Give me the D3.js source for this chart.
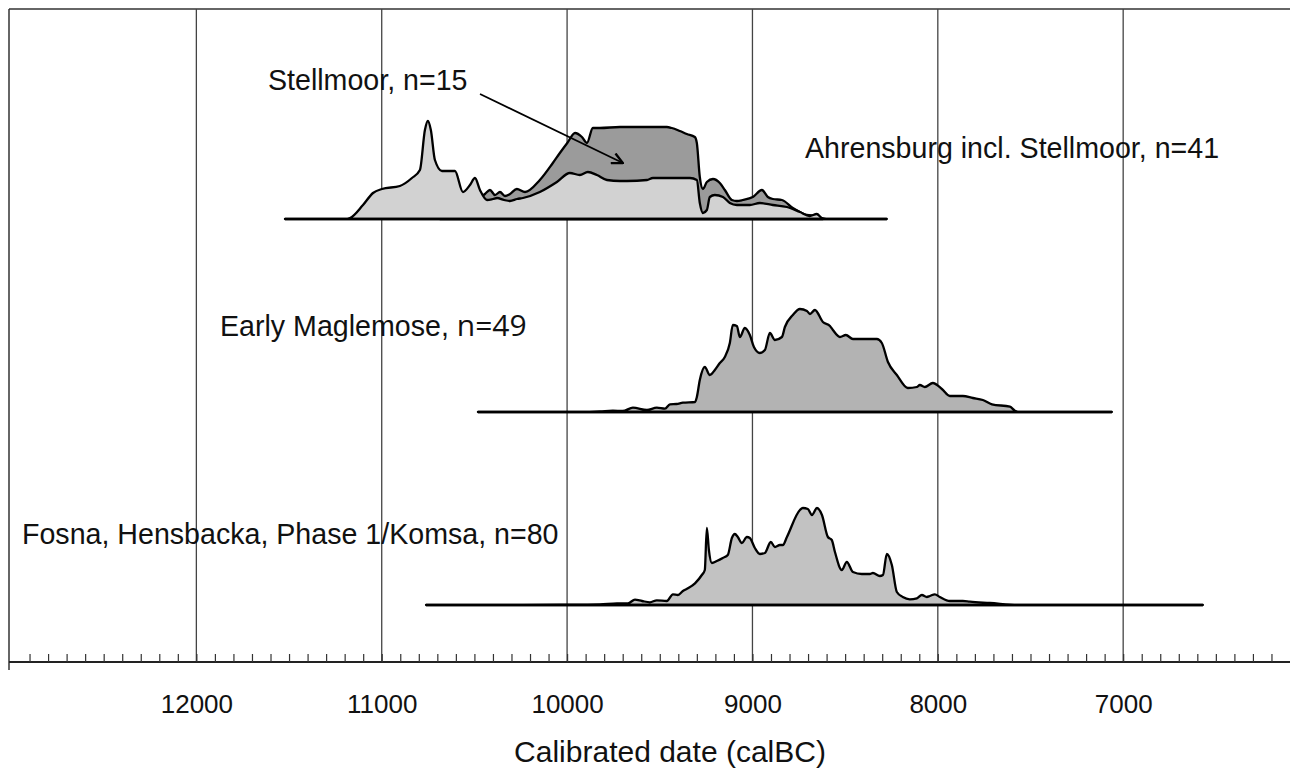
<!DOCTYPE html>
<html>
<head>
<meta charset="utf-8">
<script src="https://cdn.jsdelivr.net/npm/d3@7/dist/d3.min.js"></script>
<style>
  html, body { margin: 0; padding: 0; background: #fff; }
  svg { display: block; font-family: "Liberation Sans", Arial, sans-serif; }
</style>
</head>
<body>
<div id="chart"></div>
<script>
// tick values of the date axis (cal BC)
const majorTicks = [12000, 11000, 10000, 9000, 8000, 7000];
const minorTicks = d3.range(6200, 13000, 100);

// summed probability, [calBC, relative density]
const ahrensburg = [
  [11522, 0], [11198, 0], [11171, 1], [11101, 14], [11047, 26], [10999, 30], [10902, 33],
  [10837, 41], [10794, 49], [10767, 89], [10751, 98], [10735, 89], [10713, 59], [10675, 48],
  [10605, 48], [10562, 27], [10524, 34], [10497, 41], [10470, 29], [10432, 19], [10400, 20],
  [10378, 21], [10340, 19], [10308, 18], [10270, 20], [10238, 21], [10147, 27], [10055, 37],
  [9985, 46], [9931, 44], [9888, 47], [9839, 44], [9785, 39], [9715, 38], [9677, 38],
  [9569, 39], [9537, 41], [9337, 41], [9300, 39], [9284, 16], [9267, 6], [9246, 9],
  [9230, 22], [9203, 24], [9159, 22], [9122, 16], [9084, 14], [9014, 14], [8960, 16],
  [8890, 14], [8814, 12], [8744, 7], [8691, 3], [8653, 5], [8625, 1], [8580, 0], [8275, 0]
];

const stellmoor = [
  [10686, 0], [10524, 15], [10443, 25], [10416, 29], [10389, 24], [10362, 27], [10335, 23],
  [10308, 25], [10271, 30], [10227, 27], [10147, 39], [10077, 56], [10039, 66], [9999, 76],
  [9957, 86], [9920, 82], [9893, 76], [9861, 91], [9823, 91], [9715, 92], [9607, 92],
  [9462, 92], [9435, 91], [9392, 88], [9354, 85], [9311, 82], [9300, 76], [9284, 42],
  [9267, 30], [9246, 37], [9213, 40], [9176, 36], [9149, 29], [9111, 19], [9084, 18],
  [9052, 19], [8998, 22], [8949, 29], [8917, 22], [8890, 20], [8841, 19], [8782, 11],
  [8744, 7], [8707, 4], [8653, 3], [8620, 0]
];

const maglemose = [
  [10481, 0], [9931, 0], [9823, 0.5], [9753, 1.3], [9700, 1], [9645, 4.3], [9569, 2],
  [9516, 4.3], [9472, 3.3], [9445, 7.7], [9410, 8], [9375, 9.3], [9310, 10], [9300, 15],
  [9284, 32], [9257, 45], [9230, 37], [9203, 42], [9176, 49], [9149, 55], [9122, 69],
  [9106, 87], [9084, 86], [9068, 75], [9041, 84], [9014, 77], [8992, 65], [8960, 59],
  [8933, 62], [8906, 79], [8879, 72], [8841, 75], [8825, 85], [8782, 97], [8744, 103],
  [8706, 101], [8690, 98], [8663, 102], [8620, 90], [8582, 86], [8566, 82], [8528, 75],
  [8496, 77], [8458, 73], [8329, 73], [8302, 69], [8269, 50], [8221, 37], [8162, 24],
  [8113, 25], [8097, 27], [8070, 25], [8027, 29], [7978, 23], [7935, 16], [7865, 16],
  [7811, 14], [7757, 12], [7708, 7.7], [7611, 5.3], [7584, 1.3], [7568, 0], [7061, 0]
];

const fosna = [
  [10761, 0], [10300, 0], [10039, 0.3], [9823, 0.7], [9731, 1.7], [9672, 1.7], [9634, 5.3],
  [9596, 4], [9553, 2.7], [9516, 4.7], [9462, 4], [9429, 10.7], [9402, 10], [9375, 14],
  [9348, 16.7], [9310, 21.7], [9273, 30], [9257, 35], [9246, 77], [9235, 55], [9219, 42],
  [9192, 44], [9160, 47], [9133, 50], [9111, 67], [9095, 71], [9079, 68], [9057, 62],
  [9030, 68], [9014, 67], [8987, 57], [8960, 51], [8933, 52], [8901, 63], [8879, 58],
  [8852, 60], [8836, 60], [8814, 68], [8744, 95], [8728, 97], [8701, 96], [8679, 90],
  [8652, 97], [8625, 90], [8593, 68], [8572, 65], [8555, 53], [8518, 35], [8491, 43],
  [8458, 33], [8410, 31], [8367, 31], [8350, 32], [8313, 29], [8296, 30], [8275, 51],
  [8248, 40], [8221, 13], [8189, 8], [8151, 5.7], [8113, 6.7], [8086, 10], [8059, 8],
  [8043, 9], [8016, 10.7], [7989, 8], [7935, 4], [7865, 4], [7827, 3.3], [7719, 2],
  [7557, 0], [6570, 0]
];

const width = 1290, height = 778;
const frameLeft = 9, frameTop = 9, axisY = 662;

const svg = d3.select("#chart").append("svg")
  .attr("width", width)
  .attr("height", height);

const x = d3.scaleLinear().domain([13000, 6100]).range([11, 1290]);
// density -> pixel height (same for every row)
const h = d3.scaleLinear().domain([0, 100]).range([0, 100]);

// frame: top line and left line
svg.append("line")
  .attr("x1", frameLeft).attr("x2", width)
  .attr("y1", frameTop).attr("y2", frameTop)
  .attr("stroke", "#333").attr("stroke-width", 1.5);
svg.append("line")
  .attr("x1", frameLeft).attr("x2", frameLeft)
  .attr("y1", frameTop).attr("y2", axisY + 8)
  .attr("stroke", "#333").attr("stroke-width", 1.5);

// vertical grid lines at every 1000 years
svg.append("g").selectAll("line")
  .data(majorTicks)
  .join("line")
  .attr("x1", d => x(d)).attr("x2", d => x(d))
  .attr("y1", frameTop).attr("y2", axisY)
  .attr("stroke", "#444").attr("stroke-width", 1.3);

// one row per distribution
function drawDist(data, base, fill) {
  const area = d3.area()
    .x(d => x(d[0]))
    .y0(base)
    .y1(d => base - h(d[1]))
    .curve(d3.curveMonotoneX);
  svg.append("path")
    .datum(data)
    .attr("d", area)
    .attr("fill", fill)
    .attr("stroke", "#000")
    .attr("stroke-width", 2.3)
    .attr("stroke-linejoin", "round");
}

function baseline(from, to, base) {
  svg.append("line")
    .attr("x1", x(from)).attr("x2", x(to))
    .attr("y1", base).attr("y2", base)
    .attr("stroke", "#000").attr("stroke-width", 2.4);
}

drawDist(stellmoor, 219, "#9b9b9b");
drawDist(ahrensburg, 219, "#d2d2d2");
baseline(11522, 8275, 219);

drawDist(maglemose, 412, "#b3b3b3");
baseline(10481, 7061, 412);

drawDist(fosna, 605, "#c2c2c2");
baseline(10761, 6570, 605);

// labels
const labelFont = 28.6;
function label(txt, lx, ly) {
  return svg.append("text")
    .attr("x", lx).attr("y", ly)
    .attr("font-size", labelFont)
    .attr("fill", "#111")
    .text(txt);
}
label("Stellmoor, n=15", 268, 90);
label("Ahrensburg incl. Stellmoor, n=41", 805, 158);
const em = label("Early Maglemose, ", 220, 336);
em.append("tspan")
  .attr("font-family", "'Open Sans', 'Noto Sans', sans-serif")
  .attr("font-size", 30)
  .text("n=49");
label("Fosna, Hensbacka, Phase 1/Komsa, n=80", 22, 544);

// arrow pointing at the Stellmoor curve
svg.append("defs").append("marker")
  .attr("id", "head")
  .attr("viewBox", "0 0 12 12")
  .attr("refX", 11).attr("refY", 6)
  .attr("markerWidth", 13).attr("markerHeight", 13)
  .attr("markerUnits", "userSpaceOnUse")
  .attr("orient", "auto")
  .append("path")
  .attr("d", "M1,1 L11,6 L1,11")
  .attr("fill", "none")
  .attr("stroke", "#000")
  .attr("stroke-width", 2.2);

svg.append("line")
  .attr("x1", 480).attr("y1", 94)
  .attr("x2", x(9699)).attr("y2", 219 - h(56))
  .attr("stroke", "#000").attr("stroke-width", 1.8)
  .attr("marker-end", "url(#head)");

// axis: minor ticks pointing up, labels below
const axisMinor = svg.append("g")
  .attr("transform", `translate(0,${axisY})`)
  .call(d3.axisTop(x).tickValues(minorTicks).tickSize(8).tickSizeOuter(0).tickFormat(""));
axisMinor.select(".domain")
  .attr("d", `M${frameLeft},0H${width}`)
  .attr("stroke", "#222").attr("stroke-width", 2);
axisMinor.selectAll(".tick line").attr("stroke", "#333").attr("stroke-width", 1.2);

const axisLab = svg.append("g")
  .attr("transform", `translate(0,${axisY})`)
  .call(d3.axisBottom(x).tickValues(majorTicks).tickSize(0).tickPadding(33).tickFormat(d3.format("d")));
axisLab.select(".domain").remove();
axisLab.selectAll("text")
  .attr("font-size", 26)
  .attr("font-family", "'Liberation Sans', Arial, sans-serif")
  .attr("fill", "#111");

svg.append("text")
  .attr("x", 670).attr("y", 762)
  .attr("text-anchor", "middle")
  .attr("font-size", 30)
  .attr("fill", "#111")
  .text("Calibrated date (calBC)");
</script>
</body>
</html>
